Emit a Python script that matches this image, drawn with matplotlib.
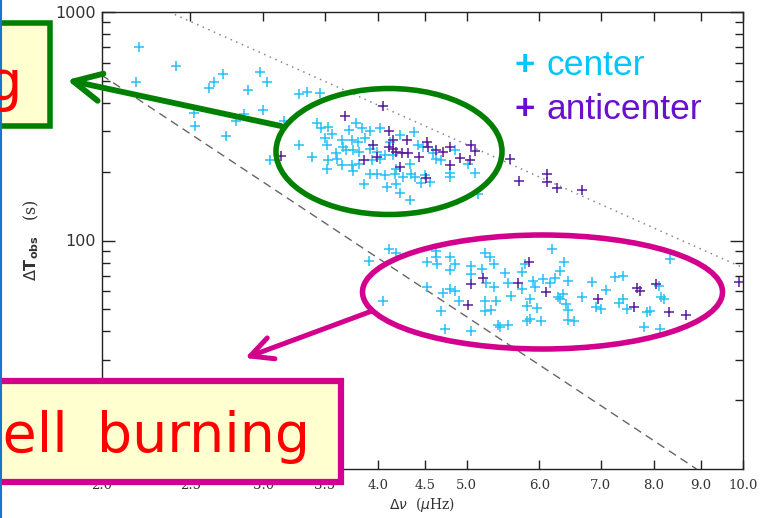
import numpy as np
import matplotlib.pyplot as plt
from matplotlib.patches import Ellipse, Rectangle, FancyArrowPatch
from matplotlib.ticker import FixedLocator, NullLocator, LogLocator, NullFormatter

# large separation (muHz) and observed period spacing (s)
center_dnu = [2.20, 2.41, 2.18, 2.71, 2.65, 2.62, 2.98, 3.03, 2.89, 2.52, 2.53, 2.86, 3.00, 2.80,
              2.73, 3.16, 3.05, 3.28, 3.35, 3.46, 3.43, 3.47, 3.53, 3.79, 3.72, 4.02, 3.92, 3.50,
              3.52, 3.66, 3.75, 3.81, 3.28, 3.39, 3.67, 3.69, 3.60, 3.76, 3.82, 3.92, 3.99, 4.02,
              4.07, 3.61, 3.53, 3.66, 3.75, 3.52, 3.82, 3.76, 3.92, 3.99, 4.07, 4.18, 3.86, 4.09,
              4.19, 4.38, 4.43, 4.48, 4.59, 4.16, 4.63, 4.69, 5.02, 4.19, 4.34, 4.35, 4.26, 4.39,
              4.50, 4.56, 4.46, 4.79, 4.79, 5.10, 4.23, 4.34, 5.14, 3.87, 4.12, 3.94, 3.57, 3.84,
              4.23, 4.85,
              4.11, 4.19, 3.91, 4.63, 4.63, 4.53, 4.64, 4.79, 4.86, 5.23, 5.30, 5.35, 6.20, 5.78,
              6.39, 5.05, 4.79, 5.05, 5.19, 5.50, 5.75, 6.32, 5.25, 5.36, 5.55, 5.75, 5.90, 5.93,
              6.05, 6.16, 6.24, 6.45, 6.85, 7.26, 7.40, 8.10, 8.33, 4.53, 4.71, 4.79, 4.85, 4.91,
              5.24, 5.38, 5.23, 5.32, 4.69, 4.05, 5.59, 5.86, 5.81, 5.96, 6.29, 6.32, 6.41, 6.45,
              6.37, 6.68, 6.92, 7.01, 7.32, 7.40, 7.47, 8.14, 8.21, 7.85, 7.91, 7.81, 8.11, 6.45,
              6.55, 5.41, 5.44, 5.55, 5.81, 5.86, 6.02, 4.73, 5.05, 7.09]
center_dT = [704, 581, 495, 533, 492, 466, 546, 493, 454, 363, 317, 357, 372, 332,
             286, 334, 224, 437, 447, 443, 328, 312, 314, 328, 306, 312, 302, 281,
             261, 274, 274, 270, 261, 231, 257, 248, 242, 248, 244, 252, 244, 228,
             236, 228, 224, 213, 215, 206, 217, 201, 195, 195, 193, 195, 176, 171,
             177, 299, 261, 257, 242, 236, 228, 224, 217, 206, 217, 196, 190, 190,
             193, 180, 179, 198, 190, 198, 162, 150, 160, 280, 269, 224, 292, 310,
             289, 248,
             91.9, 88.0, 81.7, 89.8, 84.5, 80.3, 79.0, 85.1, 79.0, 88.0, 85.1, 79.0, 91.9, 79.0,
             80.3, 77.7, 74.4, 71.4, 75.1, 72.2, 72.6, 73.3, 65.0, 62.8, 65.0, 61.4, 66.8, 62.4,
             67.9, 65.0, 68.6, 66.3, 65.6, 69.5, 70.2, 63.5, 83.1, 62.8, 58.7, 61.4, 60.3, 54.6,
             54.2, 54.2, 49.3, 49.7, 49.3, 54.6, 57.4, 55.5, 51.9, 50.7, 56.4, 55.5, 52.8, 49.8,
             58.4, 56.4, 51.0, 50.2, 53.1, 55.5, 50.2, 56.4, 55.5, 48.5, 49.3, 42.0, 41.0, 44.9,
             44.6, 42.8, 41.7, 42.8, 44.3, 45.4, 44.3, 41.0, 40.0, 60.8]

anti_dnu = [4.05, 3.68, 4.11, 3.86, 3.95, 3.99, 4.11, 4.16, 4.16, 4.30, 4.53, 4.54, 5.06, 5.10,
            4.79, 4.71, 4.63, 4.19, 4.25, 4.31, 4.44, 4.80, 4.92, 5.04, 4.23, 4.52, 5.58, 5.70,
            6.11, 6.11, 6.27, 6.67, 3.14,
            5.85, 5.21, 5.05, 5.69, 6.10, 7.66, 7.73, 8.03, 9.90, 5.01, 6.95, 7.60, 8.30, 8.67]
anti_dT = [387, 351, 301, 224, 261, 232, 257, 252, 274, 274, 270, 257, 261, 246,
           257, 244, 248, 244, 242, 242, 232, 215, 230, 224, 210, 188, 227, 182,
           196, 180, 170, 167, 235,
           80.3, 68.6, 64.6, 65.0, 59.3, 62.0, 60.3, 64.6, 65.6, 52.4, 55.5, 51.3, 48.5, 47.4]

# guide lines (end points)
dotted_dnu = [2.37, 10.0]
dotted_dT = [1000, 76]
dashed_dnu = [2.0, 8.9]
dashed_dT = [530, 10]

xticks = [2.0, 2.5, 3.0, 3.5, 4.0, 4.5, 5.0, 6.0, 7.0, 8.0, 9.0, 10.0]
xticklabels = ['%.1f' % t for t in xticks]
yticks = [100, 1000]

W, H = 769, 518
fig = plt.figure(figsize=(W / 100, H / 100), dpi=100)
ax = fig.add_axes([101.5 / W, 1 - 469 / H, (743 - 101.5) / W, (469 - 12) / H])

ax.plot(dotted_dnu, dotted_dT, color='#8a8a8a', lw=1.1, ls=(0, (1, 3)))
ax.plot(dashed_dnu, dashed_dT, color='#666666', lw=1.0, ls=(0, (6, 4)))
ax.plot(center_dnu, center_dT, '+', color='#25c0f5', ms=7.5, mew=1.1)
ax.plot(anti_dnu, anti_dT, '+', color='#5a1a9c', ms=7.5, mew=1.1)

ax.set_xscale('log')
ax.set_yscale('log')
ax.set_xlim(2, 10)
ax.set_ylim(10, 1000)
ax.xaxis.set_major_locator(FixedLocator(xticks))
ax.xaxis.set_minor_locator(NullLocator())
ax.set_xticklabels(xticklabels, family='DejaVu Serif', fontsize=9.5, color='#333333')
ax.yaxis.set_major_locator(FixedLocator(yticks))
ax.yaxis.set_minor_locator(LogLocator(subs=np.arange(2, 10)))
ax.yaxis.set_minor_formatter(NullFormatter())
ax.set_yticklabels(['100', '1000'], fontsize=11.5, color='#333333')
ax.tick_params(which='both', direction='in', top=True, right=True, color='#222222', width=1.0)
ax.tick_params(axis='x', which='major', length=6.5, pad=7)
ax.tick_params(axis='y', which='major', length=9.5, pad=4)
ax.tick_params(axis='y', which='minor', length=5.5)
for s in ax.spines.values():
    s.set_color('#222222')
    s.set_linewidth(1.0)

plt.rcParams['mathtext.fontset'] = 'dejavuserif'
ax.set_xlabel(r'$\Delta\nu$  ($\mu$Hz)', family='DejaVu Serif', fontsize=10, color='#333333', labelpad=2)
ax.set_ylabel(r'$\Delta\mathbf{T}_{\mathbf{obs}}$   (s)', family='DejaVu Serif', fontsize=11.5,
              color='#333333', labelpad=10)

# slide annotations, in pixel coordinates
ov = fig.add_axes([0, 0, 1, 1], zorder=10)
ov.set_xlim(0, W)
ov.set_ylim(H, 0)
ov.axis('off')
ov.patch.set_alpha(0)

ov.plot([1, 1], [0, H], color='#1874cd', lw=1.5)

green = '#008000'
magenta = '#d2008c'
ov.add_patch(Ellipse((389, 151.5), 226, 126, fill=False, ec=green, lw=4))
ov.add_patch(Ellipse((542.5, 292), 360, 114, fill=False, ec=magenta, lw=4))

ov.add_patch(FancyArrowPatch((281, 126), (67, 80), arrowstyle='->,head_length=20,head_width=10',
                             color=green, lw=4.2, mutation_scale=1, shrinkA=0, shrinkB=0))
ov.add_patch(FancyArrowPatch((372, 311), (245, 358), arrowstyle='->,head_length=16,head_width=8',
                             color=magenta, lw=3.6, mutation_scale=1, shrinkA=0, shrinkB=0))

ov.add_patch(Rectangle((-20, 23), 70, 103, fc='#ffffd0', ec=green, lw=4))
ov.text(22, 100, 'He core burning', color='red', fontsize=40, ha='right', va='baseline')
ov.add_patch(Rectangle((-20, 381), 361, 101, fc='#ffffd0', ec=magenta, lw=4.5))
ov.text(68, 452, 'H shell', color='red', fontsize=40, ha='right', va='baseline')
ov.text(97, 452, 'burning', color='red', fontsize=40, ha='left', va='baseline')

ov.text(525, 75, '+', color='#00c6ff', fontsize=25, fontweight='bold', ha='center', va='baseline',
        family='Liberation Sans')
ov.text(547, 75, 'center', color='#00c6ff', fontsize=25.5, va='baseline', family='Liberation Sans')
ov.text(525, 119, '+', color='#6a0fd2', fontsize=25, fontweight='bold', ha='center', va='baseline',
        family='Liberation Sans')
ov.text(547, 119, 'anticenter', color='#6a0fd2', fontsize=25.5, va='baseline', family='Liberation Sans')

fig.savefig('out.png', dpi=100)
